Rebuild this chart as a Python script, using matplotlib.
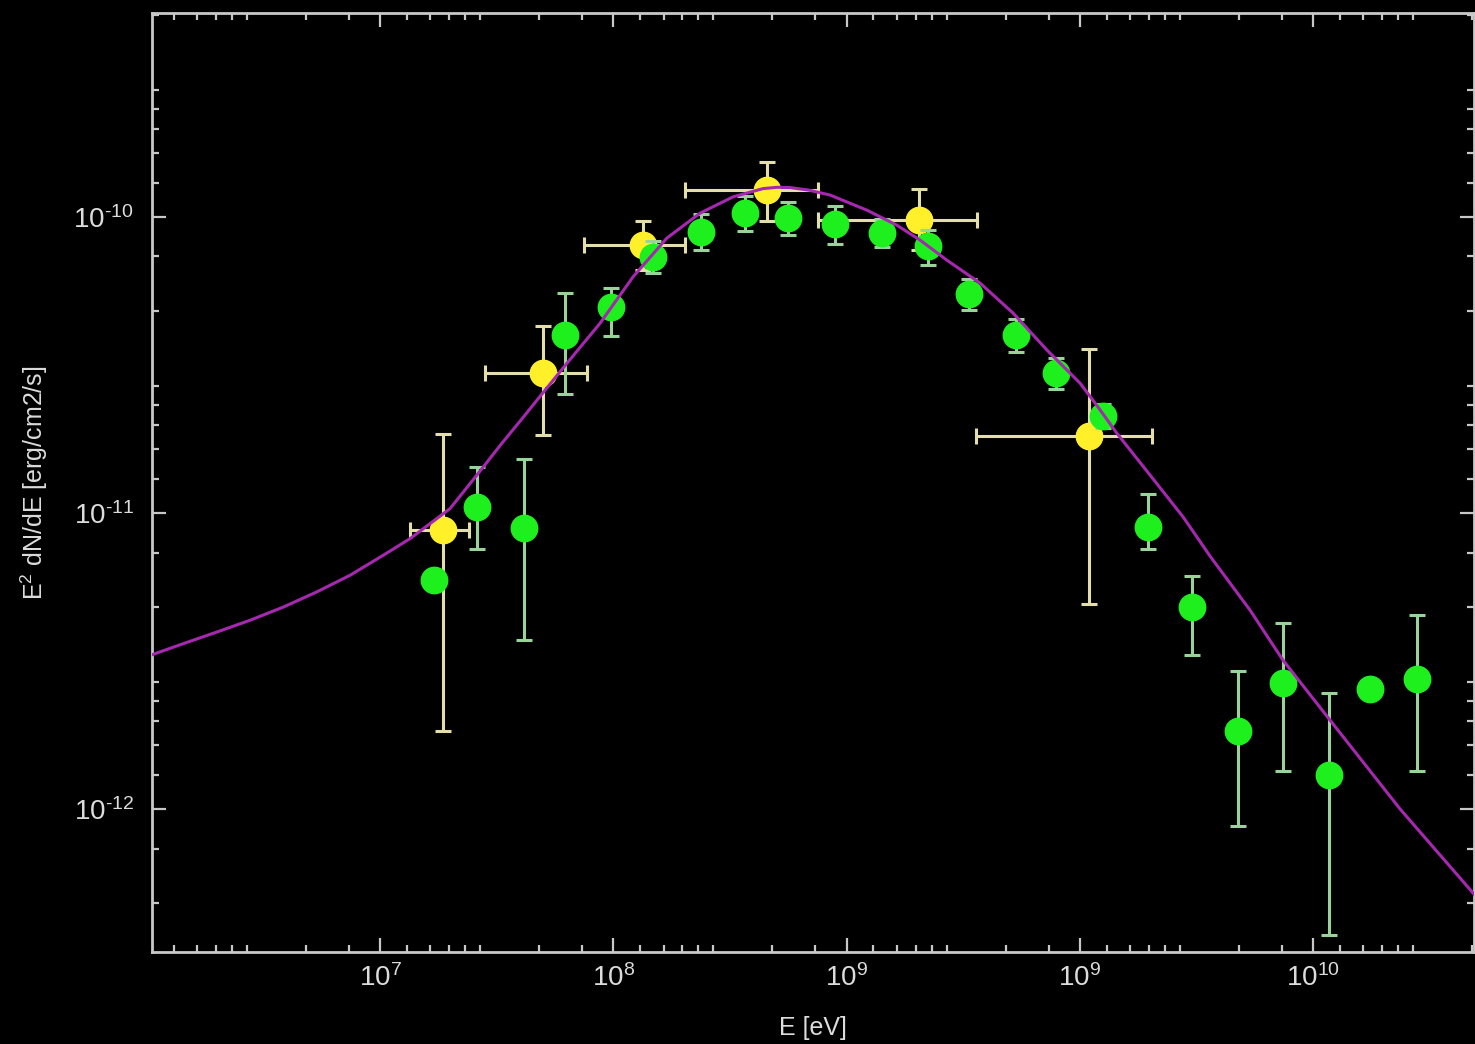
import numpy as np
import matplotlib.pyplot as plt
from matplotlib.ticker import FixedLocator, FixedFormatter, NullFormatter

plt.rcParams["font.family"] = "Liberation Sans"
plt.rcParams["mathtext.fontset"] = "custom"
plt.rcParams["mathtext.rm"] = "Liberation Sans"
plt.rcParams["mathtext.it"] = "Liberation Sans:italic"
plt.rcParams["mathtext.bf"] = "Liberation Sans:bold"

# yellow points (with energy bins)
yel_E = [1.868e7, 5.01e7, 1.345e8, 4.576e8, 2.046e9, 1.099e10]
yel_E_lo = [1.345e7, 2.82e7, 7.49e7, 2.03e8, 7.57e8, 3.59e9]
yel_E_hi = [2.408e7, 7.69e7, 2.03e8, 7.57e8, 3.617e9, 2.035e10]
yel_flux = [8.79e-12, 2.957e-11, 8.02e-11, 1.231e-10, 9.75e-11, 1.816e-11]
yel_lo = [1.83e-12, 1.83e-11, 6.6e-11, 9.69e-11, 7.72e-11, 4.94e-12]
yel_hi = [1.84e-11, 4.27e-11, 9.67e-11, 1.534e-10, 1.238e-10, 3.59e-11]

# green points
grn_E = [1.704e7, 2.598e7, 4.143e7, 6.21e7, 9.78e7, 1.476e8, 2.371e8, 3.671e8,
         5.63e8, 8.93e8, 1.416e9, 2.243e9, 3.362e9, 5.33e9, 7.91e9, 1.262e10,
         1.956e10, 3.02e10, 4.78e10, 7.42e10, 1.171e11, 1.756e11, 2.784e11]
grn_flux = [5.925e-12, 1.048e-11, 8.86e-12, 3.99e-11, 4.97e-11, 7.29e-11, 8.90e-11, 1.029e-10,
            9.88e-11, 9.45e-11, 8.83e-11, 7.96e-11, 5.48e-11, 3.99e-11, 2.96e-11, 2.12e-11,
            8.97e-12, 4.81e-12, 1.834e-12, 2.67e-12, 1.307e-12, 2.55e-12, 2.74e-12]
grn_lo = [5.925e-12, 7.58e-12, 3.73e-12, 2.53e-11, 3.95e-11, 6.45e-11, 7.72e-11, 8.95e-11,
          8.67e-11, 8.09e-11, 7.92e-11, 6.87e-11, 4.84e-11, 3.50e-11, 2.63e-11, 1.93e-11,
          7.58e-12, 3.31e-12, 8.76e-13, 1.344e-12, 3.76e-13, 2.55e-12, 1.344e-12]
grn_hi = [5.925e-12, 1.43e-11, 1.515e-11, 5.53e-11, 5.73e-11, 8.27e-11, 1.02e-10, 1.175e-10,
          1.12e-10, 1.09e-10, 9.8e-11, 9.02e-11, 6.16e-11, 4.51e-11, 3.33e-11, 2.33e-11,
          1.154e-11, 6.11e-12, 2.92e-12, 4.26e-12, 2.47e-12, 2.55e-12, 4.51e-12]

# model curve
model_E = [1.053e6, 1.435e6, 1.995e6, 2.77e6, 3.85e6, 5.35e6, 7.44e6, 1.033e7, 1.345e7,
           1.750e7, 1.996e7, 2.598e7, 3.33e7, 4.10e7, 4.70e7, 6.32e7, 8.77e7, 1.215e8,
           1.695e8, 2.355e8, 3.262e8, 4.385e8, 5.05e8, 5.73e8, 6.9e8, 8.50e8, 1.221e9,
           1.641e9, 2.066e9, 2.689e9, 3.735e9, 5.17e9, 7.22e9, 1.003e10, 1.20e10, 1.440e10,
           2.001e10, 2.771e10, 3.618e10, 5.37e10, 7.43e10, 1.183e11, 2.36e11, 4.95e11]
model_flux = [3.32e-12, 3.62e-12, 3.96e-12, 4.34e-12, 4.81e-12, 5.41e-12, 6.16e-12, 7.20e-12, 8.19e-12,
              9.57e-12, 1.035e-11, 1.341e-11, 1.72e-11, 2.10e-11, 2.40e-11, 3.20e-11, 4.37e-11, 6.27e-11,
              8.47e-11, 1.029e-10, 1.168e-10, 1.245e-10, 1.258e-10, 1.255e-10, 1.23e-10, 1.184e-10, 1.053e-10,
              9.37e-11, 8.34e-11, 7.14e-11, 5.97e-11, 4.73e-11, 3.55e-11, 2.74e-11, 2.27e-11, 1.859e-11,
              1.341e-11, 9.69e-12, 7.14e-12, 4.69e-12, 3.18e-12, 1.994e-12, 1.0e-12, 5.11e-13]

x_major = [1e7, 1e8, 1e9, 1e10, 1e11]
x_labels = ["$10^{7}$", "$10^{8}$", "$10^{9}$", "$10^{9}$", "$10^{10}$"]
y_major = [1e-12, 1e-11, 1e-10]
y_labels = [r"$10^{\text{-}12}$", r"$10^{\text{-}11}$", r"$10^{\text{-}10}$"]

axis_col = "#c8c8c8"
text_col = "#dcdcdc"

fig = plt.figure(figsize=(14.75, 10.44), dpi=100, facecolor="black")
ax = fig.add_axes([0.1031, 0.0881, 0.8963, 0.8997])
ax.set_facecolor("black")

yel_E = np.array(yel_E); yel_flux = np.array(yel_flux)
grn_E = np.array(grn_E); grn_flux = np.array(grn_flux)

ax.errorbar(yel_E, yel_flux,
            xerr=[yel_E - np.array(yel_E_lo), np.array(yel_E_hi) - yel_E],
            yerr=[yel_flux - np.array(yel_lo), np.array(yel_hi) - yel_flux],
            fmt="o", ms=19, mfc="#fff02a", mec="#fff02a", ecolor="#e4deaa",
            elinewidth=2.2, capsize=5.5, capthick=2.2, zorder=2)

ax.errorbar(grn_E, grn_flux,
            yerr=[grn_flux - np.array(grn_lo), np.array(grn_hi) - grn_flux],
            fmt="o", ms=19, mfc="#1ef01e", mec="#1ef01e", ecolor="#9ad39a",
            elinewidth=2.2, capsize=5.5, capthick=2.2, zorder=3)

ax.plot(model_E, model_flux, color="#a628b0", lw=2.2, zorder=4)

ax.set_xscale("log")
ax.set_yscale("log")
ax.set_xlim(1.053e6, 4.90e11)
ax.set_ylim(3.29e-13, 4.887e-10)

# odd minor tick spacing of the original plot
frac = np.array([0.115, 0.215, 0.296, 0.365, 0.429, 0.682, 0.866])
x_minor = np.concatenate([10.0 ** (d + frac) for d in range(6, 12)])
y_minor = np.concatenate([10.0 ** (d + frac) for d in range(-13, -9)])

ax.xaxis.set_major_locator(FixedLocator(x_major))
ax.xaxis.set_major_formatter(FixedFormatter(x_labels))
ax.xaxis.set_minor_locator(FixedLocator(x_minor))
ax.xaxis.set_minor_formatter(NullFormatter())
ax.yaxis.set_major_locator(FixedLocator(y_major))
ax.yaxis.set_major_formatter(FixedFormatter(y_labels))
ax.yaxis.set_minor_locator(FixedLocator(y_minor))
ax.yaxis.set_minor_formatter(NullFormatter())

for s in ax.spines.values():
    s.set_color(axis_col)
    s.set_linewidth(2.0)

ax.tick_params(which="both", direction="in", top=True, right=True, colors=axis_col)
ax.tick_params(which="major", length=10, width=1.6, labelsize=20, labelcolor=text_col)
ax.tick_params(which="minor", length=5, width=1.6)
ax.tick_params(axis="x", which="major", pad=9)
ax.tick_params(axis="y", which="major", pad=13)

ax.set_xlabel("E [eV]", fontsize=18, color=text_col)
ax.xaxis.set_label_coords(0.5, -0.068)
ax.set_ylabel("E$^2$ dN/dE [erg/cm2/s]", fontsize=18, color=text_col)
ax.yaxis.set_label_coords(-0.077, 0.5)

fig.savefig("out.png", dpi=100, facecolor="black")
